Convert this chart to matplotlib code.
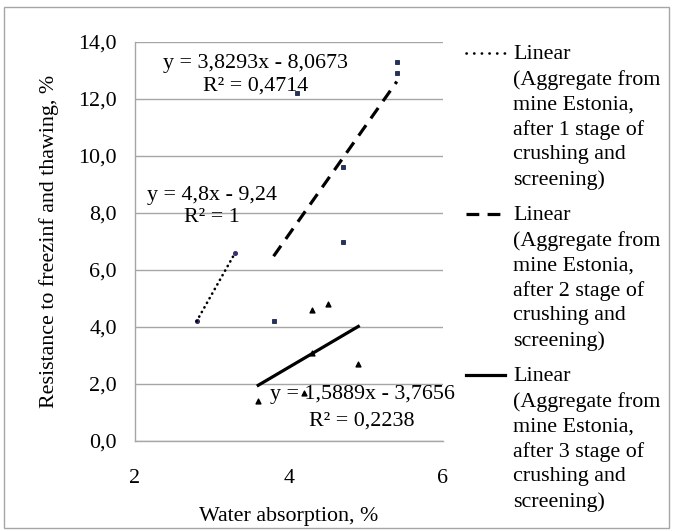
import numpy as np
import matplotlib.pyplot as plt
from matplotlib.lines import Line2D
from matplotlib.patches import Rectangle

plt.rcParams['font.family'] = 'Liberation Serif'

# measured points (water absorption %, resistance %)
stage1_x = [2.8, 3.3]
stage1_y = [4.2, 6.6]
stage2_x = [3.8, 4.7, 4.7, 4.1, 5.4, 5.4]
stage2_y = [4.2, 7.0, 9.6, 12.2, 12.9, 13.3]
stage3_x = [3.6, 4.2, 4.3, 4.3, 4.5, 4.9]
stage3_y = [1.4, 1.7, 3.1, 4.6, 4.8, 2.7]

# linear trendlines as shown on the chart
slopes = [4.8, 3.8293, 1.5889]
intercepts = [-9.24, -8.0673, -3.7656]
eq_labels = ['y = 4,8x - 9,24\nR² = 1',
             'y = 3,8293x - 8,0673\nR² = 0,4714',
             'y = 1,5889x - 3,7656\nR² = 0,2238']
legend_labels = ['Linear\n(Aggregate from\nmine Estonia,\nafter %d stage of\ncrushing and\nscreening)' % k
                 for k in (1, 2, 3)]

yticks = [0, 2, 4, 6, 8, 10, 12, 14]
xticks = [2, 4, 6]

W, H = 673, 531
fs = 15.8
grid_col = '#a6a6a6'

fig = plt.figure(figsize=(W / 100, H / 100), dpi=100)
ax = fig.add_axes([135 / W, 1 - 441 / H, 308 / W, 399 / H])

ax.scatter(stage1_x, stage1_y, s=7, marker='o', color='#3b2f6e', zorder=3)
ax.scatter(stage2_x, stage2_y, s=9, marker='s', color='#1f3366', edgecolors='#0a0f25', linewidths=0.5, zorder=3)
ax.scatter(stage3_x, stage3_y, s=12, marker='^', color='black', zorder=3)

styles = [dict(linestyle=(0, (0.1, 1.9)), dash_capstyle='round', lw=1.9),
          dict(linestyle=(0, (4, 2.6)), lw=2.3),
          dict(linestyle='-', lw=2.3)]
for xs, m, b, st in zip([stage1_x, stage2_x, stage3_x], slopes, intercepts, styles):
    xx = np.array([min(xs), max(xs)])
    ax.plot(xx, m * xx + b, color='black', zorder=4, **st)

# trendline equations
ax.text(3.0, 8.23, eq_labels[0], ha='center', va='center', multialignment='center',
        fontsize=fs, linespacing=1.23, zorder=5)
ax.text(3.57, 12.84, eq_labels[1], ha='center', va='center', multialignment='center',
        fontsize=fs, linespacing=1.28, zorder=5)
ax.text(4.95, 1.17, eq_labels[2], ha='center', va='center', multialignment='center',
        fontsize=fs, linespacing=1.5, zorder=5)

ax.set_xlim(2, 6)
ax.set_ylim(0, 14)
ax.set_xticks(xticks)
ax.set_xticklabels([str(v) for v in xticks])
ax.set_yticks(yticks)
ax.set_yticklabels([('%.1f' % v).replace('.', ',') for v in yticks])
ax.tick_params(length=0, labelsize=fs)
ax.tick_params(axis='y', pad=13)
ax.tick_params(axis='x', pad=20)
ax.yaxis.grid(True, color=grid_col, lw=1)
ax.set_axisbelow(True)
for side in ['top', 'right']:
    ax.spines[side].set_visible(False)
for side in ['left', 'bottom']:
    ax.spines[side].set_color(grid_col)
    ax.spines[side].set_linewidth(1)

ax.set_xlabel('Water absorption, %', fontsize=fs, labelpad=14)
ax.set_ylabel('Resistance to freezinf and thawing, %', fontsize=fs, labelpad=14)

# legend drawn by hand so the line sits on the first text line, like Excel does
legend_styles = [dict(styles[0], linestyle=(0, (0.1, 2.8))), styles[1], styles[2]]
entry_y = [53, 214, 375]
for lab, st, yc in zip(legend_labels, legend_styles, entry_y):
    fig.add_artist(Line2D([466 / W, 505 / W], [1 - yc / H, 1 - yc / H], color='black',
                          transform=fig.transFigure, **st))
    fig.text(513 / W, 1 - (yc - 8) / H, lab, ha='left', va='top', fontsize=fs, linespacing=1.39)

fig.patches.append(Rectangle((4 / W, 3 / H), 665 / W, 521 / H, transform=fig.transFigure,
                             fill=False, edgecolor=grid_col, lw=1))

fig.savefig('out.png', dpi=100)
